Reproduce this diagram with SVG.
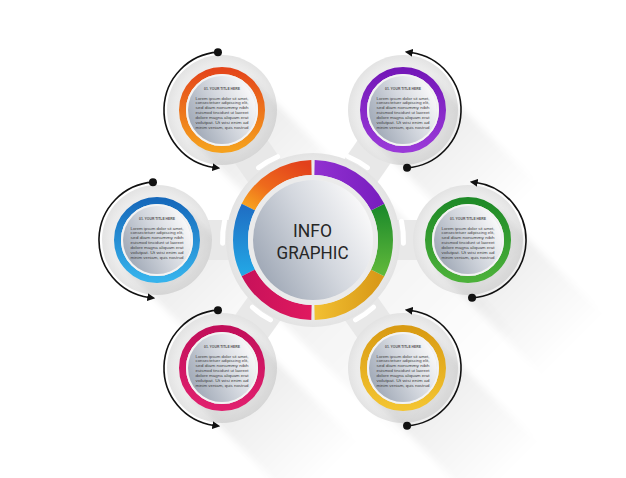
<svg xmlns="http://www.w3.org/2000/svg" xmlns:xlink="http://www.w3.org/1999/xlink" width="626" height="478" viewBox="0 0 626 478">
<style>
.tt{font-family:"Liberation Sans",Arial,sans-serif;font-size:3.5px;font-weight:700;fill:#555;text-anchor:middle}
.bt{font-family:"Liberation Sans",Arial,sans-serif;font-size:4.2px;fill:#444}
.ct{font-family:Roboto,"Liberation Sans",sans-serif;font-size:19px;fill:#262626;text-anchor:middle}
.arc{fill:none;stroke:#111;stroke-width:1.6;marker-end:url(#ah)}
.dot{fill:#111}
.neck{stroke:#e8e8e8;stroke-width:40}
.slit{fill:none;stroke:#fff;stroke-width:5;stroke-linecap:round}
.rim{fill:none;stroke:#f3f3f3;stroke-width:2}
.seg{fill:none;stroke-width:15}
</style>
<defs>
<filter id="blur" x="-20%" y="-20%" width="140%" height="140%"><feGaussianBlur stdDeviation="3"/></filter>
<linearGradient id="shg" x1="0" y1="0" x2="1" y2="0">
<stop offset="0" stop-color="#000" stop-opacity="0.09"/>
<stop offset="0.4" stop-color="#000" stop-opacity="0.055"/>
<stop offset="1" stop-color="#000" stop-opacity="0"/>
</linearGradient>
<rect id="shS" x="0" y="-43" width="150" height="86" fill="url(#shg)" transform="rotate(45)" filter="url(#blur)"/>
<rect id="shC" x="0" y="-80" width="220" height="160" fill="url(#shg)" opacity="0.7" transform="rotate(45)" filter="url(#blur)"/>
<clipPath id="cs"><circle r="55"/></clipPath>
<radialGradient id="disk" cx="0.5" cy="0.5" r="0.5">
<stop offset="0.6" stop-color="#f1f1f1"/>
<stop offset="0.85" stop-color="#ebebeb"/>
<stop offset="1" stop-color="#e3e3e3"/>
</radialGradient>
<linearGradient id="plate" x1="0.05" y1="0.8" x2="0.95" y2="0.3">
<stop offset="0" stop-color="#9ea7b5"/>
<stop offset="0.55" stop-color="#d3d7de"/>
<stop offset="1" stop-color="#f7f7f8"/>
</linearGradient>
<linearGradient id="gOr" x1="0" y1="0" x2="0" y2="1"><stop offset="0" stop-color="#e4461a"/><stop offset="1" stop-color="#f5a11e"/></linearGradient>
<linearGradient id="gPu" x1="0" y1="0" x2="0" y2="1"><stop offset="0" stop-color="#7417b8"/><stop offset="1" stop-color="#9a3ad8"/></linearGradient>
<linearGradient id="gBl" x1="0" y1="0" x2="0" y2="1"><stop offset="0" stop-color="#1669bb"/><stop offset="1" stop-color="#36b3ec"/></linearGradient>
<linearGradient id="gGr" x1="0" y1="0" x2="0" y2="1"><stop offset="0" stop-color="#1e8a27"/><stop offset="1" stop-color="#4cb13a"/></linearGradient>
<linearGradient id="gMg" x1="0" y1="0" x2="0" y2="1"><stop offset="0" stop-color="#c20f5a"/><stop offset="1" stop-color="#e0206e"/></linearGradient>
<linearGradient id="gYe" x1="0" y1="0" x2="0" y2="1"><stop offset="0" stop-color="#d99b13"/><stop offset="1" stop-color="#f3c431"/></linearGradient>
<linearGradient id="cOr" x1="1" y1="0" x2="0" y2="1"><stop offset="0" stop-color="#e2401c"/><stop offset="0.6" stop-color="#ee6a1c"/><stop offset="1" stop-color="#f7a21f"/></linearGradient>
<linearGradient id="cBl" x1="0" y1="0" x2="0" y2="1"><stop offset="0" stop-color="#1f6fc4"/><stop offset="1" stop-color="#23a6e5"/></linearGradient>
<linearGradient id="cMg" x1="0" y1="0" x2="1" y2="0"><stop offset="0" stop-color="#c9125a"/><stop offset="1" stop-color="#e0195f"/></linearGradient>
<linearGradient id="cYe" x1="0" y1="0" x2="1" y2="0"><stop offset="0" stop-color="#f2c032"/><stop offset="1" stop-color="#d99a18"/></linearGradient>
<linearGradient id="cGr" x1="0" y1="0" x2="0" y2="1"><stop offset="0" stop-color="#1c8a2b"/><stop offset="1" stop-color="#5fb83a"/></linearGradient>
<linearGradient id="cPu" x1="0" y1="0" x2="1" y2="0"><stop offset="0" stop-color="#9130d0"/><stop offset="1" stop-color="#7a1fc0"/></linearGradient>
<marker id="ah" viewBox="0 0 10 10" refX="2" refY="5" markerWidth="5" markerHeight="5" orient="auto" markerUnits="strokeWidth"><path d="M0,0 L10,5 L0,10 z" fill="#111"/></marker>
</defs>
<rect width="626" height="478" fill="#fff"/>

<g id="shadows">
<use href="#shC" x="313" y="240"/>
<use href="#shS" x="222" y="110"/>
<use href="#shS" x="403" y="110"/>
<use href="#shS" x="157" y="240"/>
<use href="#shS" x="468" y="240"/>
<use href="#shS" x="222" y="368"/>
<use href="#shS" x="403" y="368"/>
</g>

<g id="links">
<line class="neck" x1="313" y1="240" x2="222" y2="110"/>
<line class="neck" x1="313" y1="240" x2="403" y2="110"/>
<line class="neck" x1="313" y1="240" x2="157" y2="240"/>
<line class="neck" x1="313" y1="240" x2="468" y2="240"/>
<line class="neck" x1="313" y1="240" x2="222" y2="368"/>
<line class="neck" x1="313" y1="240" x2="403" y2="368"/>
<path class="slit" d="M258.54 167.73 A90.5 90.5 0 0 1 277.64 156.69"/>
<path class="slit" d="M348.36 156.69 A90.5 90.5 0 0 1 367.46 167.73"/>
<path class="slit" d="M222.56 243.16 A90.5 90.5 0 0 1 224.48 221.18"/>
<path class="slit" d="M401.52 221.18 A90.5 90.5 0 0 1 403.44 243.16"/>
<path class="slit" d="M270.51 319.9 A90.5 90.5 0 0 1 252.44 307.25"/>
<path class="slit" d="M373.56 307.25 A90.5 90.5 0 0 1 355.49 319.9"/>
</g>

<g id="center" transform="translate(313,240)">
<circle r="87" fill="url(#disk)"/>
<path class="seg" stroke="url(#cOr)" d="M-1.52 -72.48 A72.5 72.5 0 0 0 -64.6 -32.91"/>
<path class="seg" stroke="url(#cBl)" d="M-64.6 -32.91 A72.5 72.5 0 0 0 -64.6 32.91"/>
<path class="seg" stroke="url(#cMg)" d="M-64.6 32.91 A72.5 72.5 0 0 0 -1.52 72.48"/>
<path class="seg" stroke="url(#cYe)" d="M1.52 72.48 A72.5 72.5 0 0 0 64.6 32.91"/>
<path class="seg" stroke="url(#cGr)" d="M64.6 32.91 A72.5 72.5 0 0 0 64.6 -32.91"/>
<path class="seg" stroke="url(#cPu)" d="M64.6 -32.91 A72.5 72.5 0 0 0 1.52 -72.48"/>
<circle r="62.5" fill="none" stroke="#ebebeb" stroke-width="5"/>
<circle r="60" fill="url(#plate)"/>
<text class="ct" x="-0.5" y="-3" textLength="39" lengthAdjust="spacingAndGlyphs">INFO</text>
<text class="ct" x="-0.5" y="18.5" textLength="72" lengthAdjust="spacingAndGlyphs">GRAPHIC</text>
</g>

<g id="node-top-left" transform="translate(222,110)">
<circle r="55" fill="url(#disk)"/>
<use href="#shS" clip-path="url(#cs)"/>
<circle r="39.5" fill="none" stroke="url(#gOr)" stroke-width="7"/>
<circle class="rim" r="35"/>
<circle r="34" fill="url(#plate)"/>
<text class="tt" y="-20" textLength="36" lengthAdjust="spacingAndGlyphs">01. YOUR TITLE HERE</text>
<text class="bt" x="-26.5" y="-10.5" textLength="53" lengthAdjust="spacingAndGlyphs">Lorem ipsum dolor sit amet,</text>
<text class="bt" x="-26.5" y="-5.6" textLength="53" lengthAdjust="spacingAndGlyphs">consectetuer adipiscing elit,</text>
<text class="bt" x="-26.5" y="-0.7" textLength="53" lengthAdjust="spacingAndGlyphs">sed diam nonummy nibh</text>
<text class="bt" x="-26.5" y="4.2" textLength="53" lengthAdjust="spacingAndGlyphs">euismod tincidunt ut laoreet</text>
<text class="bt" x="-26.5" y="9.1" textLength="53" lengthAdjust="spacingAndGlyphs">dolore magna aliquam erat</text>
<text class="bt" x="-26.5" y="14" textLength="53" lengthAdjust="spacingAndGlyphs">volutpat. Ut wisi enim ad</text>
<text class="bt" x="-26.5" y="18.9" textLength="53" lengthAdjust="spacingAndGlyphs">minim veniam, quis nostrud</text>
</g>

<g id="node-top-right" transform="translate(403,110)">
<circle r="55" fill="url(#disk)"/>
<use href="#shS" clip-path="url(#cs)"/>
<circle r="39.5" fill="none" stroke="url(#gPu)" stroke-width="7"/>
<circle class="rim" r="35"/>
<circle r="34" fill="url(#plate)"/>
<text class="tt" y="-20" textLength="36" lengthAdjust="spacingAndGlyphs">01. YOUR TITLE HERE</text>
<text class="bt" x="-26.5" y="-10.5" textLength="53" lengthAdjust="spacingAndGlyphs">Lorem ipsum dolor sit amet,</text>
<text class="bt" x="-26.5" y="-5.6" textLength="53" lengthAdjust="spacingAndGlyphs">consectetuer adipiscing elit,</text>
<text class="bt" x="-26.5" y="-0.7" textLength="53" lengthAdjust="spacingAndGlyphs">sed diam nonummy nibh</text>
<text class="bt" x="-26.5" y="4.2" textLength="53" lengthAdjust="spacingAndGlyphs">euismod tincidunt ut laoreet</text>
<text class="bt" x="-26.5" y="9.1" textLength="53" lengthAdjust="spacingAndGlyphs">dolore magna aliquam erat</text>
<text class="bt" x="-26.5" y="14" textLength="53" lengthAdjust="spacingAndGlyphs">volutpat. Ut wisi enim ad</text>
<text class="bt" x="-26.5" y="18.9" textLength="53" lengthAdjust="spacingAndGlyphs">minim veniam, quis nostrud</text>
</g>

<g id="node-left" transform="translate(157,240)">
<circle r="55" fill="url(#disk)"/>
<use href="#shS" clip-path="url(#cs)"/>
<circle r="39.5" fill="none" stroke="url(#gBl)" stroke-width="7"/>
<circle class="rim" r="35"/>
<circle r="34" fill="url(#plate)"/>
<text class="tt" y="-20" textLength="36" lengthAdjust="spacingAndGlyphs">01. YOUR TITLE HERE</text>
<text class="bt" x="-26.5" y="-10.5" textLength="53" lengthAdjust="spacingAndGlyphs">Lorem ipsum dolor sit amet,</text>
<text class="bt" x="-26.5" y="-5.6" textLength="53" lengthAdjust="spacingAndGlyphs">consectetuer adipiscing elit,</text>
<text class="bt" x="-26.5" y="-0.7" textLength="53" lengthAdjust="spacingAndGlyphs">sed diam nonummy nibh</text>
<text class="bt" x="-26.5" y="4.2" textLength="53" lengthAdjust="spacingAndGlyphs">euismod tincidunt ut laoreet</text>
<text class="bt" x="-26.5" y="9.1" textLength="53" lengthAdjust="spacingAndGlyphs">dolore magna aliquam erat</text>
<text class="bt" x="-26.5" y="14" textLength="53" lengthAdjust="spacingAndGlyphs">volutpat. Ut wisi enim ad</text>
<text class="bt" x="-26.5" y="18.9" textLength="53" lengthAdjust="spacingAndGlyphs">minim veniam, quis nostrud</text>
</g>

<g id="node-right" transform="translate(468,240)">
<circle r="55" fill="url(#disk)"/>
<use href="#shS" clip-path="url(#cs)"/>
<circle r="39.5" fill="none" stroke="url(#gGr)" stroke-width="7"/>
<circle class="rim" r="35"/>
<circle r="34" fill="url(#plate)"/>
<text class="tt" y="-20" textLength="36" lengthAdjust="spacingAndGlyphs">01. YOUR TITLE HERE</text>
<text class="bt" x="-26.5" y="-10.5" textLength="53" lengthAdjust="spacingAndGlyphs">Lorem ipsum dolor sit amet,</text>
<text class="bt" x="-26.5" y="-5.6" textLength="53" lengthAdjust="spacingAndGlyphs">consectetuer adipiscing elit,</text>
<text class="bt" x="-26.5" y="-0.7" textLength="53" lengthAdjust="spacingAndGlyphs">sed diam nonummy nibh</text>
<text class="bt" x="-26.5" y="4.2" textLength="53" lengthAdjust="spacingAndGlyphs">euismod tincidunt ut laoreet</text>
<text class="bt" x="-26.5" y="9.1" textLength="53" lengthAdjust="spacingAndGlyphs">dolore magna aliquam erat</text>
<text class="bt" x="-26.5" y="14" textLength="53" lengthAdjust="spacingAndGlyphs">volutpat. Ut wisi enim ad</text>
<text class="bt" x="-26.5" y="18.9" textLength="53" lengthAdjust="spacingAndGlyphs">minim veniam, quis nostrud</text>
</g>

<g id="node-bottom-left" transform="translate(222,368)">
<circle r="55" fill="url(#disk)"/>
<use href="#shS" clip-path="url(#cs)"/>
<circle r="39.5" fill="none" stroke="url(#gMg)" stroke-width="7"/>
<circle class="rim" r="35"/>
<circle r="34" fill="url(#plate)"/>
<text class="tt" y="-20" textLength="36" lengthAdjust="spacingAndGlyphs">01. YOUR TITLE HERE</text>
<text class="bt" x="-26.5" y="-10.5" textLength="53" lengthAdjust="spacingAndGlyphs">Lorem ipsum dolor sit amet,</text>
<text class="bt" x="-26.5" y="-5.6" textLength="53" lengthAdjust="spacingAndGlyphs">consectetuer adipiscing elit,</text>
<text class="bt" x="-26.5" y="-0.7" textLength="53" lengthAdjust="spacingAndGlyphs">sed diam nonummy nibh</text>
<text class="bt" x="-26.5" y="4.2" textLength="53" lengthAdjust="spacingAndGlyphs">euismod tincidunt ut laoreet</text>
<text class="bt" x="-26.5" y="9.1" textLength="53" lengthAdjust="spacingAndGlyphs">dolore magna aliquam erat</text>
<text class="bt" x="-26.5" y="14" textLength="53" lengthAdjust="spacingAndGlyphs">volutpat. Ut wisi enim ad</text>
<text class="bt" x="-26.5" y="18.9" textLength="53" lengthAdjust="spacingAndGlyphs">minim veniam, quis nostrud</text>
</g>

<g id="node-bottom-right" transform="translate(403,368)">
<circle r="55" fill="url(#disk)"/>
<use href="#shS" clip-path="url(#cs)"/>
<circle r="39.5" fill="none" stroke="url(#gYe)" stroke-width="7"/>
<circle class="rim" r="35"/>
<circle r="34" fill="url(#plate)"/>
<text class="tt" y="-20" textLength="36" lengthAdjust="spacingAndGlyphs">01. YOUR TITLE HERE</text>
<text class="bt" x="-26.5" y="-10.5" textLength="53" lengthAdjust="spacingAndGlyphs">Lorem ipsum dolor sit amet,</text>
<text class="bt" x="-26.5" y="-5.6" textLength="53" lengthAdjust="spacingAndGlyphs">consectetuer adipiscing elit,</text>
<text class="bt" x="-26.5" y="-0.7" textLength="53" lengthAdjust="spacingAndGlyphs">sed diam nonummy nibh</text>
<text class="bt" x="-26.5" y="4.2" textLength="53" lengthAdjust="spacingAndGlyphs">euismod tincidunt ut laoreet</text>
<text class="bt" x="-26.5" y="9.1" textLength="53" lengthAdjust="spacingAndGlyphs">dolore magna aliquam erat</text>
<text class="bt" x="-26.5" y="14" textLength="53" lengthAdjust="spacingAndGlyphs">volutpat. Ut wisi enim ad</text>
<text class="bt" x="-26.5" y="18.9" textLength="53" lengthAdjust="spacingAndGlyphs">minim veniam, quis nostrud</text>
</g>

<g id="connectors">
<path class="arc" d="M217.95 52.14 A58 58 0 0 0 213.93 167.44"/>
<circle class="dot" cx="217.95" cy="52.14" r="4"/>
<path class="arc" d="M152.95 182.14 A58 58 0 0 0 148.93 297.44"/>
<circle class="dot" cx="152.95" cy="182.14" r="4"/>
<path class="arc" d="M217.95 310.14 A58 58 0 0 0 213.93 425.44"/>
<circle class="dot" cx="217.95" cy="310.14" r="4"/>
<path class="arc" d="M407.05 167.86 A58 58 0 0 0 411.07 52.56"/>
<circle class="dot" cx="407.05" cy="167.86" r="4"/>
<path class="arc" d="M472.05 297.86 A58 58 0 0 0 476.07 182.56"/>
<circle class="dot" cx="472.05" cy="297.86" r="4"/>
<path class="arc" d="M407.05 425.86 A58 58 0 0 0 411.07 310.56"/>
<circle class="dot" cx="407.05" cy="425.86" r="4"/>
</g>
</svg>
